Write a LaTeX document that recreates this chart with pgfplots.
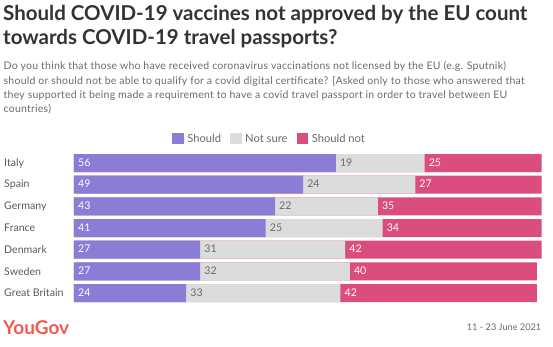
\documentclass[border=0pt]{standalone}
\usepackage{fontspec}
\setmainfont{Lato}
\newfontfamily\subfont[LetterSpace=2.2]{Lato}
\usepackage{pgfplots}
\usepackage{pgfplotstable}
\pgfplotsset{compat=1.18}
\definecolor{purp}{HTML}{8B7CD5}
\definecolor{lgrey}{HTML}{DCDCDC}
\definecolor{pinkc}{HTML}{DB4C7F}
\definecolor{titlec}{HTML}{333333}
\definecolor{subc}{HTML}{6A6A6A}
\definecolor{labc}{HTML}{5A5A5A}
\definecolor{ygred}{HTML}{EF5B4E}
\pgfplotstableread{
idx should notsure shouldnot
0 56 19 25
1 49 24 27
2 43 22 35
3 41 25 34
4 27 31 42
5 27 32 40
6 24 33 42
}\data
\pgfplotstablecreatecol[create col/expr={0}]{c0}\data
\pgfplotstablecreatecol[create col/expr={\thisrow{should}+\thisrow{notsure}}]{c2}\data
\pgfplotstablecreatecol[create col/expr={\thisrow{c2}+\thisrow{shouldnot}}]{c3}\data
\begin{document}
\begin{tikzpicture}[x=1pt,y=1pt]
\useasboundingbox (0,0) rectangle (553,-347);
\node[anchor=base west, inner sep=0, text=titlec, font=\fontsize{20.5}{22}\selectfont\bfseries] at (3,-21) {Should COVID-19 vaccines not approved by the EU count};
\node[anchor=base west, inner sep=0, text=titlec, font=\fontsize{20.5}{22}\selectfont\bfseries] at (3,-44.5) {towards COVID-19 travel passports?};
\node[anchor=base west, inner sep=0, text=subc, font=\subfont\fontsize{10.5}{12}\selectfont] at (3.5,-70) {Do you think that those who have received coronavirus vaccinations not licensed by the EU (e.g. Sputnik)};
\node[anchor=base west, inner sep=0, text=subc, font=\subfont\fontsize{10.5}{12}\selectfont] at (3.5,-84.5) {should or should not be able to qualify for a covid digital certificate? [Asked only to those who answered that};
\node[anchor=base west, inner sep=0, text=subc, font=\subfont\fontsize{10.5}{12}\selectfont] at (3.5,-99) {they supported it being made a requirement to have a covid travel passport in order to travel between EU};
\node[anchor=base west, inner sep=0, text=subc, font=\subfont\fontsize{10.5}{12}\selectfont] at (3.5,-113) {countries)};
\begin{axis}[
  at={(74pt,-152.2pt)}, anchor=north west,
  scale only axis, width=467.5pt, height=151.7pt,
  xmin=0, xmax=100, ymin=-0.5, ymax=6.5, y dir=reverse,
  axis line style={draw=none}, tick style={draw=none},
  xtick=\empty, ytick={0,...,6},
  yticklabels={Italy,Spain,Germany,France,Denmark,Sweden,Great Britain},
  yticklabel style={anchor=west, inner sep=0pt, xshift=-70pt, text=labc, font=\fontsize{10.6}{12}\selectfont},
  legend style={at={(0.416,1.09)}, anchor=center, draw=none, fill=none,
    legend columns=3, font=\fontsize{11.2}{13}\selectfont, text=subc,
    nodes={inner sep=0pt, text depth=0pt},
    /tikz/every odd column/.append style={column sep=3.5pt},
    /tikz/every even column/.append style={column sep=9pt}},
  legend image code/.code={\fill[#1, draw=none] (0pt,-6pt) rectangle (11.7pt,5.7pt);},
  clip=false,
]
% bars (overlaid cumulative totals)
\addplot[forget plot, xbar, bar width=18pt, bar shift=0pt, fill=pinkc, draw=none] table[x=c3, y=idx] {\data};
\addplot[forget plot, xbar, bar width=18pt, bar shift=0pt, fill=lgrey, draw=none] table[x=c2, y=idx] {\data};
\addplot[forget plot, xbar, bar width=18pt, bar shift=0pt, fill=purp, draw=none] table[x=should, y=idx] {\data};
% value labels at the start of each segment
\addplot[forget plot, draw=none, mark=none, point meta=explicit symbolic, nodes near coords,
  nodes near coords style={anchor=west, inner sep=0pt, xshift=4pt, yshift=0.6pt, text=white, font=\fontsize{10.6}{12}\selectfont}]
  table[x=c0, y=idx, meta=should] {\data};
\addplot[forget plot, draw=none, mark=none, point meta=explicit symbolic, nodes near coords,
  nodes near coords style={anchor=west, inner sep=0pt, xshift=4pt, yshift=0.6pt, text=subc, font=\fontsize{10.6}{12}\selectfont}]
  table[x=should, y=idx, meta=notsure] {\data};
\addplot[forget plot, draw=none, mark=none, point meta=explicit symbolic, nodes near coords,
  nodes near coords style={anchor=west, inner sep=0pt, xshift=4pt, yshift=0.6pt, text=white, font=\fontsize{10.6}{12}\selectfont}]
  table[x=c2, y=idx, meta=shouldnot] {\data};
\addlegendimage{fill=purp, draw=none}
\addlegendentry{Should}
\addlegendimage{fill=lgrey, draw=none}
\addlegendentry{Not sure}
\addlegendimage{fill=pinkc, draw=none}
\addlegendentry{Should not}
\end{axis}
\node[anchor=base west, inner sep=0, text=ygred, font=\fontsize{19}{22}\selectfont\bfseries] at (3,-334.5) {YouGov};
\node[anchor=base east, inner sep=0, text=subc, font=\fontsize{9.2}{11}\selectfont] at (541.5,-330.5) {11 - 23 June 2021};
\end{tikzpicture}
\end{document}
